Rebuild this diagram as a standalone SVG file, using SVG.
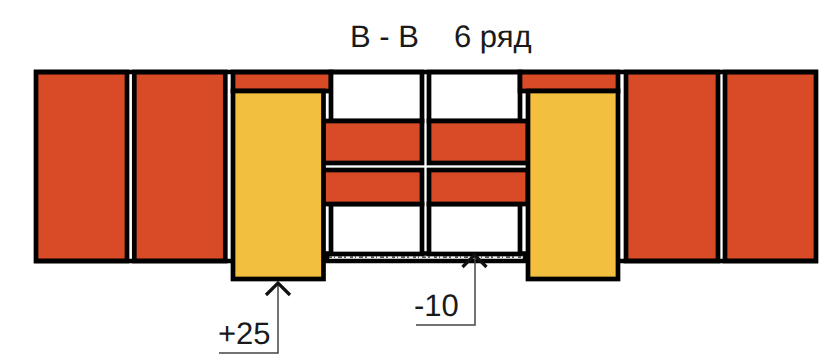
<svg xmlns="http://www.w3.org/2000/svg" width="827" height="361" viewBox="0 0 827 361">
<style>
.b{stroke:#000;stroke-width:4.7}
.r{fill:#d94a27}
.y{fill:#f2bf3f}
.w{fill:#fff}
.f{fill:none;stroke:#000;stroke-width:4.7}
.l{fill:none;stroke:#444;stroke-width:1.5}
.a{fill:none;stroke:#111;stroke-width:3.2}
text{font-family:"Liberation Sans",Arial,sans-serif;fill:#1a1a1a;text-rendering:geometricPrecision}
</style>
<rect width="827" height="361" fill="#fff"/>
<g id="strip">
<rect x="327" y="253.500" width="198" height="7.500" fill="#fff" stroke="#000" stroke-width="4.500"/>
<line x1="329" y1="257.200" x2="524" y2="257.200" stroke="#222" stroke-width="1.300" stroke-dasharray="3 2 1 3 4 2 2 4"/>
</g>
<g id="brick-1"><rect class="b r" x="36" y="72" width="91" height="189"/></g>
<g id="brick-2"><rect class="b r" x="134.300" y="72" width="91" height="189"/></g>
<g id="brick-top-left"><rect class="b r" x="233" y="72" width="98" height="19"/></g>
<g id="white-top-1"><rect class="b w" x="331" y="72" width="91" height="49"/></g>
<g id="white-top-2"><rect class="b w" x="429" y="72" width="91" height="49"/></g>
<g id="white-bottom-1"><rect class="b w" x="331" y="204" width="91" height="50"/></g>
<g id="white-bottom-2"><rect class="b w" x="429" y="204" width="91" height="50"/></g>
<g id="brick-mid-1"><rect class="b r" x="323" y="121" width="99" height="42"/></g>
<g id="brick-mid-2"><rect class="b r" x="429" y="121" width="99" height="42"/></g>
<g id="brick-mid-3"><rect class="b r" x="323" y="170" width="99" height="34"/></g>
<g id="brick-mid-4"><rect class="b r" x="429" y="170" width="99" height="34"/></g>
<g id="brick-top-right"><rect class="b r" x="520" y="72" width="98" height="19"/></g>
<g id="yellow-left"><rect class="b y" x="233" y="91" width="90.500" height="188"/></g>
<g id="yellow-right"><rect class="b y" x="528" y="91" width="90" height="188"/></g>
<g id="brick-3"><rect class="b r" x="626" y="72" width="92" height="189"/></g>
<g id="brick-4"><rect class="b r" x="725" y="72" width="91" height="189"/></g>
<g id="frame">
<path class="f" d="M34 72H818"/>
<path class="f" d="M34 261H233"/>
<path class="f" d="M618 261H818"/>
</g>
<g id="connectors">
<path class="l" d="M278 284V353H219"/>
<path class="a" d="M266 295L278 283L290 295"/>
<path class="l" d="M475 256V325H416"/>
<path class="a" d="M462.500 267L474.500 255L486.500 267"/>
</g>
<g id="labels">
<text x="350" y="47" font-size="31">В - В</text>
<text x="454" y="47" font-size="31">6 ряд</text>
<text x="218" y="344" font-size="31">+25</text>
<text x="414" y="316" font-size="31">-10</text>
</g>
</svg>
